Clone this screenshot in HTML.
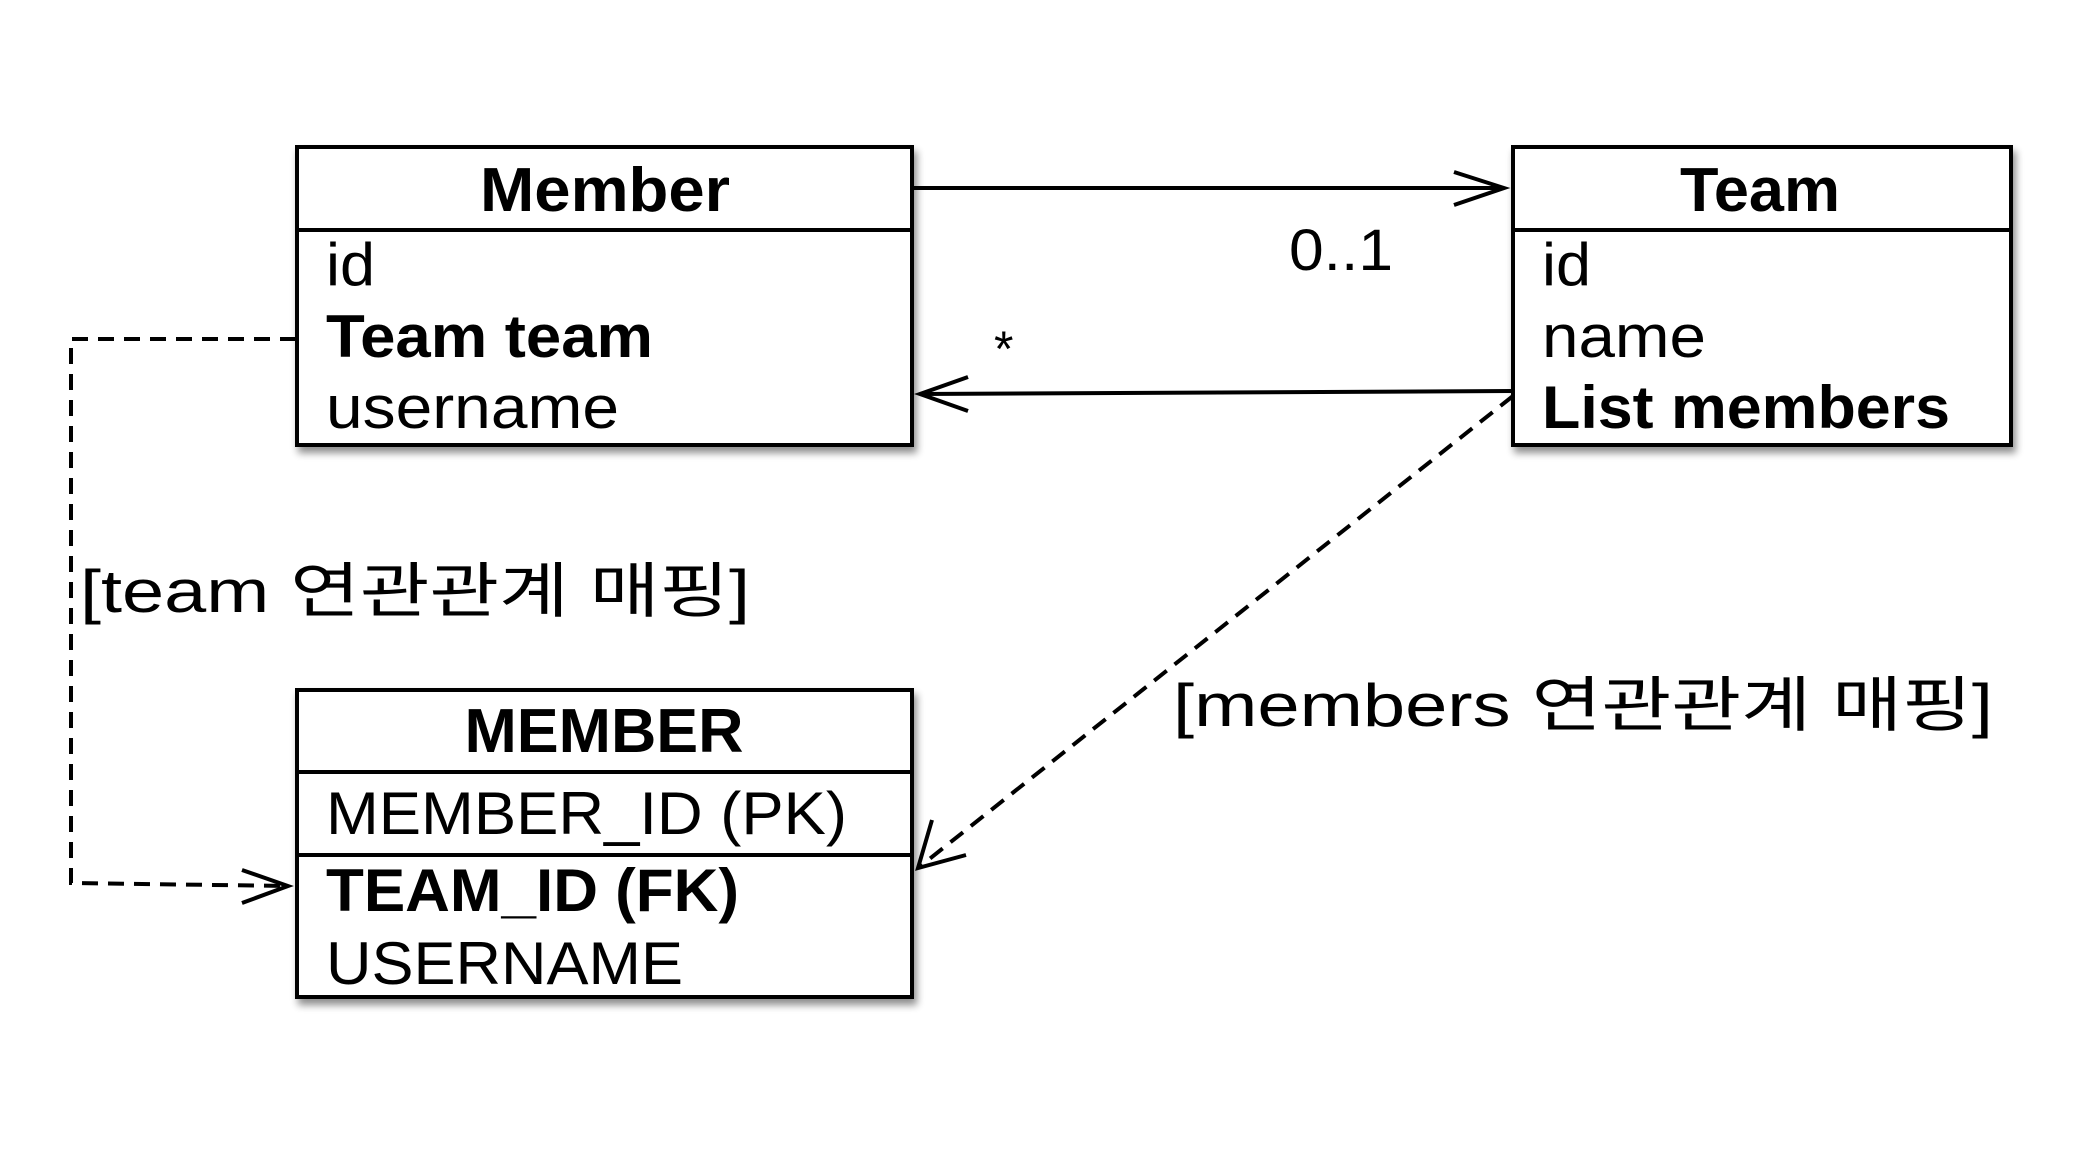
<!DOCTYPE html>
<html><head><meta charset="utf-8"><style>
html,body{margin:0;padding:0;background:#fff;}
svg{display:block;}
text{font-family:"Liberation Sans","Noto Sans CJK KR",sans-serif;fill:#000;}
.b{font-weight:bold;}
</style></head><body>
<svg width="2084" height="1150" viewBox="0 0 2084 1150" xmlns="http://www.w3.org/2000/svg">
<defs>
<filter id="sh" x="-10%" y="-10%" width="130%" height="130%">
<feGaussianBlur in="SourceAlpha" stdDeviation="4"/><feOffset dx="3" dy="6"/>
<feComponentTransfer><feFuncA type="linear" slope="0.45"/></feComponentTransfer>
<feMerge><feMergeNode/><feMergeNode in="SourceGraphic"/></feMerge></filter>
</defs>
<g fill="#fff" stroke="#000" stroke-width="4">
<rect x="297" y="147" width="615" height="298" filter="url(#sh)"/>
<rect x="1513" y="147" width="498" height="298" filter="url(#sh)"/>
<rect x="297" y="690" width="615" height="307" filter="url(#sh)"/>
</g>
<g stroke="#000" stroke-width="4">
<line x1="297" y1="230" x2="912" y2="230"/>
<line x1="1513" y1="230" x2="2011" y2="230"/>
<line x1="297" y1="772" x2="912" y2="772"/>
<line x1="297" y1="855" x2="912" y2="855"/>
</g>
<!-- Member -->
<text class="b" x="605" y="211" font-size="62" text-anchor="middle" textLength="250" lengthAdjust="spacingAndGlyphs">Member</text>
<text x="326" y="285" font-size="60" textLength="49" lengthAdjust="spacingAndGlyphs">id</text>
<text class="b" x="326" y="357" font-size="60" textLength="327" lengthAdjust="spacingAndGlyphs">Team team</text>
<text x="326" y="428" font-size="60" textLength="293" lengthAdjust="spacingAndGlyphs">username</text>
<!-- Team -->
<text class="b" x="1760" y="211" font-size="62" text-anchor="middle" textLength="160" lengthAdjust="spacingAndGlyphs">Team</text>
<text x="1542" y="285" font-size="60" textLength="49" lengthAdjust="spacingAndGlyphs">id</text>
<text x="1542" y="357" font-size="60" textLength="164" lengthAdjust="spacingAndGlyphs">name</text>
<text class="b" x="1542" y="428" font-size="60" textLength="408" lengthAdjust="spacingAndGlyphs">List members</text>
<!-- MEMBER -->
<text class="b" x="604" y="752" font-size="62" text-anchor="middle" textLength="279" lengthAdjust="spacingAndGlyphs">MEMBER</text>
<text x="326" y="834" font-size="60" textLength="521" lengthAdjust="spacingAndGlyphs">MEMBER_ID (PK)</text>
<text class="b" x="326" y="911" font-size="60" textLength="413" lengthAdjust="spacingAndGlyphs">TEAM_ID (FK)</text>
<text x="326" y="984" font-size="60" textLength="357" lengthAdjust="spacingAndGlyphs">USERNAME</text>
<!-- arrows -->
<g stroke="#000" stroke-width="4" fill="none">
<line x1="912" y1="188" x2="1504" y2="188"/>
<polyline points="1454,172 1504,188 1454,205"/>
<line x1="1513" y1="391" x2="920" y2="394"/>
<polyline points="968,377 920,394 968,411"/>
<polyline points="296,339 71,339 71,883 288,886" stroke-dasharray="16,10"/>
<polyline points="242,870 288,886 242,903"/>
<line x1="1513" y1="396" x2="918" y2="868" stroke-dasharray="16,10"/>
<polyline points="932,820 918,868 966,855"/>
</g>
<text x="1289" y="270" font-size="58" textLength="104" lengthAdjust="spacingAndGlyphs">0..1</text>
<text x="994" y="366" font-size="50">*</text>
<text x="80" y="612" font-size="60" textLength="670" lengthAdjust="spacingAndGlyphs">[team 연관관계 매핑]</text>
<text x="1173" y="726" font-size="60" textLength="820" lengthAdjust="spacingAndGlyphs">[members 연관관계 매핑]</text>
</svg>
</body></html>
